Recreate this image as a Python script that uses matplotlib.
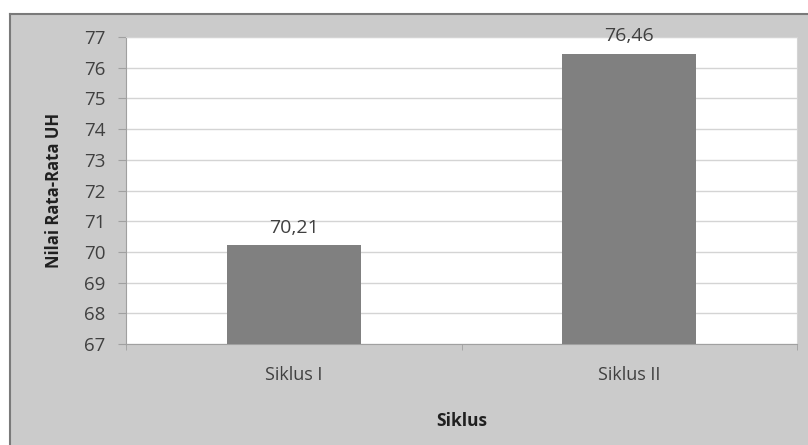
import numpy as np
import matplotlib.pyplot as plt
from matplotlib.patches import Rectangle
from matplotlib.lines import Line2D

categories = ['Siklus I', 'Siklus II']
values = [70.21, 76.46]
value_labels = ['70,21', '76,46']
y_ticks = list(range(67, 78))

plt.rcParams['font.family'] = ['Open Sans', 'DejaVu Sans']

fig = plt.figure(figsize=(8.08, 4.45), dpi=100)
fig.patch.set_facecolor('white')

# gray chart area with dark top/left edge, drawn behind the axes
x0 = 10 / 808
y1 = (445 - 14) / 445
fig.patches.append(Rectangle((x0, 0), 1 - x0, y1, transform=fig.transFigure,
                             facecolor='#cbcbcb', edgecolor='none', zorder=-2))
fig.lines.append(Line2D([x0, x0], [0, y1], transform=fig.transFigure, color='#7a7a7a', lw=1.5, zorder=-1))
fig.lines.append(Line2D([x0, 1], [y1, y1], transform=fig.transFigure, color='#7a7a7a', lw=1.5, zorder=-1))

ax = fig.add_axes([126 / 808, (445 - 344) / 445, (797 - 126) / 808, (344 - 37) / 445])
ax.set_facecolor('white')

x = np.arange(len(categories))
bars = ax.bar(x, values, width=0.4, color='#808080', zorder=3)
ax.set_xlim(-0.5, len(categories) - 0.5)
ax.set_ylim(67, 77)
ax.set_yticks(y_ticks)
ax.set_yticklabels([str(t) for t in y_ticks], fontsize=13.5, color='#404040')
ax.grid(axis='y', color='#d4d4d4', lw=1, zorder=0)

ax.set_xticks(x)
ax.set_xticklabels(categories, fontsize=13, color='#404040')
ax.tick_params(axis='x', length=0, pad=16)
ax.set_xticks([-0.5, 0.5, 1.5], minor=True)
ax.tick_params(axis='x', which='minor', length=4, color='#a0a0a0', direction='out')
ax.tick_params(axis='y', length=6, color='#a0a0a0', direction='out', pad=9)

for s in ['top', 'right']:
    ax.spines[s].set_color('#d4d4d4')
for s in ['left', 'bottom']:
    ax.spines[s].set_color('#a0a0a0')

for xi, v, lab in zip(x, values, value_labels):
    ax.text(xi, v + 0.28, lab, ha='center', va='bottom', fontsize=14, color='#404040')

ax.set_ylabel('Nilai Rata-Rata UH', fontsize=12, fontweight='bold', color='#202020', labelpad=15)
ax.set_xlabel('Siklus', fontsize=12.5, fontweight='bold', color='#202020', labelpad=20)

fig.savefig('out.png', dpi=100)
